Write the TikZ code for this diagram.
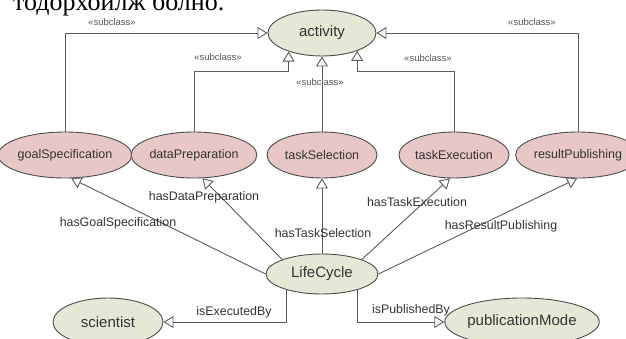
\documentclass[tikz,border=0pt]{standalone}
\usepackage{fontspec}
\setmainfont{Liberation Sans}
\newfontfamily\cyrserif{Liberation Serif}
\usetikzlibrary{arrows.meta,shapes.geometric}
\definecolor{greenfill}{HTML}{E4E9D6}
\definecolor{pinkfill}{HTML}{E8C8C6}
\definecolor{bordergray}{HTML}{4C4C4C}
\definecolor{linegray}{HTML}{5A5A5A}
\definecolor{textgray}{HTML}{333333}
\definecolor{subgray}{HTML}{555555}
\begin{document}
\begin{tikzpicture}[x=1pt,y=-1pt,
  cls/.style={ellipse, draw=bordergray, line width=0.9pt, inner sep=0pt, text=textgray},
  greencls/.style={cls, fill=greenfill, font=\fontsize{15}{17}\selectfont},
  pinkcls/.style={cls, fill=pinkfill, font=\fontsize{12.5}{14}\selectfont},
  conn/.style={draw=linegray, line width=0.9pt},
  gen/.style={conn, -{Triangle[length=10pt,width=12pt,fill=white]}},
  lbl/.style={font=\fontsize{12.4}{14}\selectfont, text=textgray, inner sep=0pt},
  sub/.style={font=\fontsize{9.5}{11}\selectfont, text=subgray, inner sep=0pt},
]
\useasboundingbox (0,0) rectangle (626,339);
\clip (0,0) rectangle (626,339);

% cut-off heading text
\node[anchor=base west, inner sep=0pt, font=\cyrserif\fontsize{26}{30}\selectfont] (head) at (13,11) {тодорхойлж болно.};

% nodes
\node[greencls, minimum width=108pt, minimum height=46pt] (act) at (322,33) {activity};

\node[pinkcls, minimum width=106pt, minimum height=46pt] (goal) at (65,155) {goalSpecification};
\node[pinkcls, minimum width=98pt, minimum height=46pt] (dp) at (194,155) {dataPreparation};
\node[pinkcls, minimum width=110pt, minimum height=46pt] (ts) at (322,155) {taskSelection};
\node[pinkcls, minimum width=108pt, minimum height=46pt] (te) at (454,155) {taskExecution};
\node[pinkcls, minimum width=98pt, minimum height=46pt] (rp) at (578,155) {resultPublishing};

\node[greencls, minimum width=112pt, minimum height=40pt] (lc) at (322,274) {LifeCycle};
\node[greencls, minimum width=110pt, minimum height=48pt] (sci) at (108,322) {scientist};
\node[greencls, minimum width=116pt, minimum height=48pt] (pm) at (522,322) {publicationMode};

\coordinate (lvl) at (0,71);

% subclass connectors
\draw[gen] (goal.north) |- (act.west);
\draw[gen] (dp.north) |- (act.209 |- lvl) -- (act.209);
\draw[gen] (ts.north) -- (act.south);
\draw[gen] (te.north) |- (act.333 |- lvl) -- (act.333);
\draw[gen] (rp.north) |- (act.east);

\node[sub] (s1) at (112,22) {«subclass»};
\node[sub] (s2) at (218,57) {«subclass»};
\node[sub] (s3) at (320,82) {«subclass»};
\node[sub] (s4) at (428,58) {«subclass»};
\node[sub] (s5) at (532,22) {«subclass»};

% LifeCycle relations
\draw[gen] (lc.west) -- (goal.285);
\draw[gen] (lc.160) -- (dp.290);
\draw[gen] (lc.north) -- (ts.south);
\draw[gen] (lc.20) -- (te.260);
\draw[gen] (lc.east) -- (rp.268);
\draw[gen] (lc.204) |- (sci.east);
\draw[gen] (lc.336) |- (pm.west);

\node[lbl] (l1) at (118,223) {hasGoalSpecification};
\node[lbl] (l2) at (204,197) {hasDataPreparation};
\node[lbl] (l3) at (323,233) {hasTaskSelection};
\node[lbl] (l4) at (417,202) {hasTaskExecution};
\node[lbl] (l5) at (501,226) {hasResultPublishing};
\node[lbl] (l6) at (234,312) {isExecutedBy};
\node[lbl] (l7) at (411,310) {isPublishedBy};
\end{tikzpicture}
\end{document}
